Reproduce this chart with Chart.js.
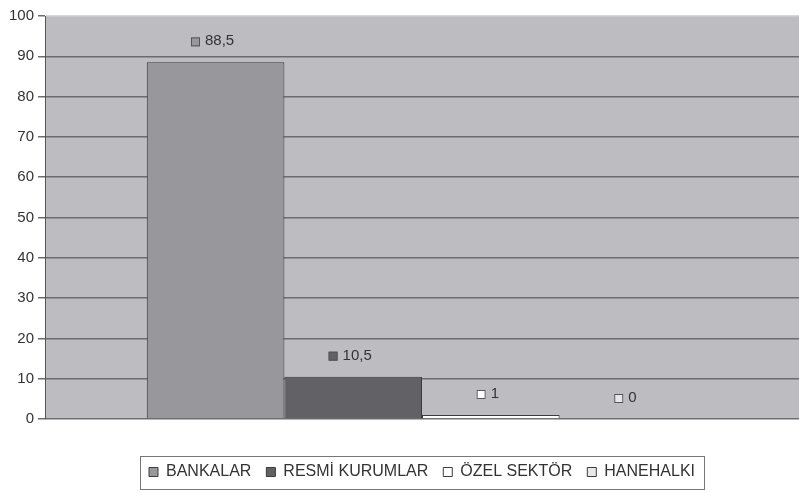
<!DOCTYPE html>
<html lang="tr">
<head>
    <meta charset="UTF-8">
    <title>Dağılım</title>
    <script src="https://cdn.jsdelivr.net/npm/chart.js"></script>
    <style>
        html, body {
            margin: 0;
            padding: 0;
            background: #fff;
        }
        #wrap {
            width: 799px;
            height: 492px;
        }
    </style>
</head>
<body>
    <div id="wrap"><canvas id="chart" width="799" height="492"></canvas></div>
    <script>
        // Veriler
        const categories = [''];
        const seriesNames = ['BANKALAR', 'RESMİ KURUMLAR', 'ÖZEL SEKTÖR', 'HANEHALKI'];
        const seriesValues = [88.5, 10.5, 1, 0];
        const seriesColors = ['#98989c', '#626266', '#ffffff', '#e8e8e8'];
        const yTicks = [0, 10, 20, 30, 40, 50, 60, 70, 80, 90, 100];

        const FONT = "'Liberation Sans', Arial, sans-serif";

        // Gri çizim alanı arka planı
        const plotBackground = {
            id: 'plotBackground',
            beforeDraw(chart) {
                const { ctx, chartArea: a } = chart;
                ctx.save();
                ctx.fillStyle = '#bdbdc1';
                ctx.fillRect(a.left, a.top, a.right - a.left, a.bottom - a.top);
                ctx.restore();
            }
        };

        // Çubukların üstündeki değer etiketleri
        const valueLabels = {
            id: 'valueLabels',
            afterDatasetsDraw(chart) {
                const ctx = chart.ctx;
                ctx.save();
                ctx.font = '15px ' + FONT;
                ctx.textBaseline = 'middle';
                ctx.textAlign = 'left';
                chart.data.datasets.forEach((ds, i) => {
                    const bar = chart.getDatasetMeta(i).data[0];
                    const text = String(ds.data[0]).replace('.', ',');
                    const tw = ctx.measureText(text).width;
                    const total = 9 + 5 + tw;
                    const x0 = bar.x - 3 - total / 2;
                    const cy = bar.y - 21;
                    ctx.fillStyle = ds.backgroundColor;
                    ctx.fillRect(x0, cy - 4, 9, 9);
                    ctx.strokeStyle = '#555';
                    ctx.lineWidth = 1;
                    ctx.strokeRect(x0 + 0.5, cy - 3.5, 8, 8);
                    ctx.fillStyle = '#333';
                    ctx.fillText(text, x0 + 14, cy);
                });
                ctx.restore();
            }
        };

        // Lejant çerçevesi
        const legendFrame = {
            id: 'legendFrame',
            afterDraw(chart) {
                const boxes = chart.legend.legendHitBoxes;
                if (!boxes || !boxes.length) return;
                const first = boxes[0];
                const last = boxes[boxes.length - 1];
                const left = first.left - 9;
                const right = last.left + last.width + 9;
                const cy = first.top + first.height / 2;
                const ctx = chart.ctx;
                ctx.save();
                ctx.strokeStyle = '#777';
                ctx.lineWidth = 1;
                ctx.strokeRect(Math.round(left) + 0.5, Math.round(cy - 16) + 0.5, Math.round(right - left), 33);
                ctx.restore();
            }
        };

        const ctx = document.getElementById('chart').getContext('2d');
        const chart = new Chart(ctx, {
            type: 'bar',
            data: {
                labels: categories,
                datasets: seriesNames.map((name, i) => ({
                    label: name,
                    data: [seriesValues[i]],
                    backgroundColor: seriesColors[i],
                    borderColor: '#3c3c3e',
                    borderWidth: 1,
                    categoryPercentage: 0.73,
                    barPercentage: 1
                }))
            },
            options: {
                responsive: false,
                animation: false,
                layout: {
                    padding: { top: 16, right: 0, bottom: 2, left: 0 }
                },
                scales: {
                    x: {
                        grid: { display: false },
                        border: { display: false },
                        ticks: { display: false },
                        afterFit(scale) { scale.height = 30; }
                    },
                    y: {
                        min: 0,
                        max: 100,
                        afterFit(scale) { scale.width = 45; },
                        afterBuildTicks(scale) {
                            scale.ticks = yTicks.map(v => ({ value: v }));
                        },
                        ticks: {
                            color: '#333',
                            padding: 4,
                            font: { family: FONT, size: 15 }
                        },
                        grid: {
                            color: c => (c.tick && c.tick.value === 100) ? '#d6d6d8' : '#6c6c70',
                            tickColor: '#6c6c70',
                            lineWidth: 1.5,
                            tickLength: 7
                        },
                        border: { display: true, color: '#555', width: 1 }
                    }
                },
                plugins: {
                    legend: {
                        position: 'bottom',
                        fullSize: false,
                        labels: {
                            color: '#333',
                            boxWidth: 9,
                            boxHeight: 9,
                            padding: 15,
                            font: { family: FONT, size: 16 }
                        }
                    },
                    tooltip: { enabled: false }
                }
            },
            plugins: [plotBackground, valueLabels, legendFrame]
        });
    </script>
</body>
</html>
